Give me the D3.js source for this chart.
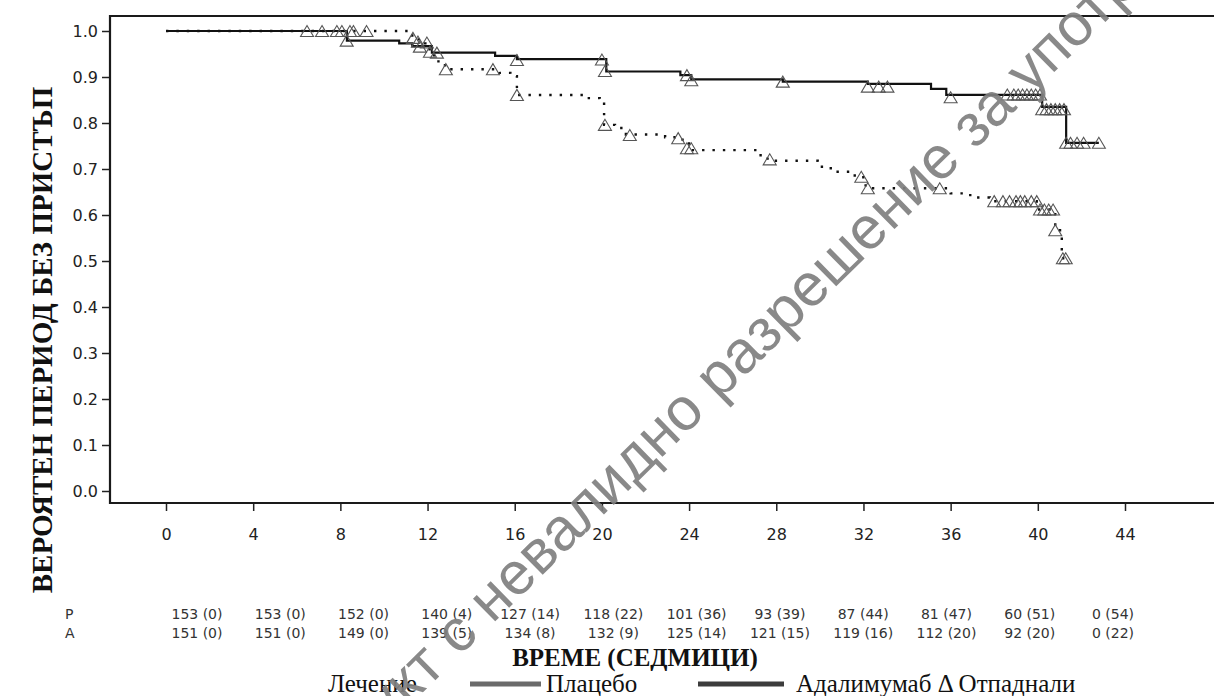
<!DOCTYPE html>
<html><head><meta charset="utf-8">
<script src="https://cdn.jsdelivr.net/npm/d3@7"></script>
<style>body{margin:0;background:#fff}svg{display:block}</style>
</head><body>
<svg id="c" width="1214" height="696"></svg>
<script>
// ---------- data ----------
const weekTicks = [0,4,8,12,16,20,24,28,32,36,40,44];
const probTicks = [0,0.1,0.2,0.3,0.4,0.5,0.6,0.7,0.8,0.9,1.0];

const placeboTimes = [0,11.3,11.6,11.9,12.2,12.5,12.8,15.3,15.8,16.1,19.4,19.9,20.1,20.6,21.1,22.9,23.7,24.0,27.2,27.6,29.9,30.5,31.6,32.1,36.0,36.9,37.8,39.95,40.8,41.1,41.3];
const placeboSurv  = [1.0,0.987,0.973,0.960,0.947,0.930,0.917,0.909,0.902,0.861,0.854,0.848,0.796,0.789,0.775,0.769,0.759,0.741,0.730,0.718,0.705,0.694,0.682,0.658,0.647,0.638,0.630,0.612,0.567,0.506,0.506];

const adaTimes = [0,8.3,10.7,11.3,12.2,15.1,16.1,20.2,23.6,24.1,28.3,32.2,35.1,35.8,40.2,41.3,42.8];
const adaSurv  = [1.0,0.979,0.973,0.967,0.953,0.946,0.939,0.912,0.904,0.895,0.890,0.885,0.874,0.861,0.835,0.757,0.757];

const placeboCensTimes = [6.47,7.16,7.84,8.44,8.6,9.2,11.33,11.65,12.84,15.0,16.1,20.14,21.28,23.5,23.9,24.1,27.7,31.9,32.2,35.5,38.0,38.4,38.7,39.0,39.2,39.4,39.7,39.95,40.1,40.3,40.5,40.7,40.8,41.15,41.28];
const placeboCensSurv  = [1,1,1,1,1,1,0.985,0.966,0.917,0.917,0.861,0.796,0.774,0.767,0.745,0.745,0.721,0.683,0.658,0.658,0.63,0.63,0.63,0.63,0.63,0.63,0.63,0.63,0.612,0.612,0.612,0.612,0.567,0.506,0.506];

const adaCensTimes = [8.07,8.29,11.56,11.97,12.11,12.43,16.1,20.0,20.14,23.9,24.1,28.3,32.2,32.7,33.1,36.0,38.6,38.9,39.1,39.3,39.5,39.7,39.9,40.1,40.2,40.4,40.6,40.8,41.0,41.2,41.3,41.5,41.8,42.1,42.8];
const adaCensSurv  = [1.0,0.979,0.977,0.975,0.955,0.953,0.937,0.938,0.913,0.904,0.893,0.890,0.879,0.879,0.879,0.856,0.862,0.862,0.862,0.862,0.862,0.862,0.862,0.862,0.830,0.830,0.830,0.830,0.830,0.830,0.757,0.757,0.757,0.757,0.757];

const riskGroups = ["P","A"];
const placeboRisk = ["153 (0)","153 (0)","152 (0)","140 (4)","127 (14)","118 (22)","101 (36)","93 (39)","87 (44)","81 (47)","60 (51)","0 (54)"];
const adaRisk = ["151 (0)","151 (0)","149 (0)","139 (5)","134 (8)","132 (9)","125 (14)","121 (15)","119 (16)","112 (20)","92 (20)","0 (22)"];

const yTitle = "ВЕРОЯТЕН ПЕРИОД БЕЗ ПРИСТЪП";
const xTitle = "ВРЕМЕ (СЕДМИЦИ)";
const legendTitle = "Лечение";
const legendPlacebo = "Плацебо";
const legendAda = "Адалимумаб Δ Отпаднали";
const watermark = "Лекарствен продукт с невалидно разрешение за употреба";

// ---------- drawing ----------
const svg = d3.select("#c");
const x = d3.scaleLinear().domain([0,44]).range([166,1125]);
const y = d3.scaleLinear().domain([0,1]).range([491,31]);
const tableX = d3.scaleLinear().domain([0,44]).range([197,1113]);

const frameLeft = 110, frameTop = 16, frameBottom = 503, frameRight = 1240;
const tickFont = "'DejaVu Sans', Verdana, sans-serif";
const serif = "'Liberation Serif', 'Times New Roman', serif";

// y axis
const ya = svg.append("g").attr("transform",`translate(${frameLeft},0)`)
  .call(d3.axisLeft(y).tickValues(probTicks).tickSize(8).tickPadding(4).tickFormat(d3.format(".1f")));
ya.select(".domain").remove();
ya.selectAll("line").attr("stroke","#222").attr("stroke-width",1.5);
ya.selectAll("text").attr("font-family",tickFont).attr("font-size",16).attr("fill","#222");

// x axis
const xa = svg.append("g").attr("transform",`translate(0,${frameBottom})`)
  .call(d3.axisBottom(x).tickValues(weekTicks).tickSize(8).tickPadding(18).tickFormat(d3.format("d")));
xa.select(".domain").remove();
xa.selectAll("line").attr("stroke","#222").attr("stroke-width",1.5);
xa.selectAll("text").attr("font-family",tickFont).attr("font-size",16).attr("fill","#222");

// frame
svg.append("path")
  .attr("d",`M${frameRight},${frameTop}H${frameLeft}V${frameBottom}H${frameRight}`)
  .attr("fill","none").attr("stroke","#1a1a1a").attr("stroke-width",2.2);

// curves
const line = d3.line().x(d=>x(d[0])).y(d=>y(d[1])).curve(d3.curveStepAfter);
svg.append("path").datum(placeboTimes.map((t,i)=>[t,placeboSurv[i]]))
  .attr("d",line).attr("fill","none").attr("stroke","#111").attr("stroke-width",2.4)
  .attr("stroke-dasharray","2.4,8");
svg.append("path").datum(adaTimes.map((t,i)=>[t,adaSurv[i]]))
  .attr("d",line).attr("fill","none").attr("stroke","#111").attr("stroke-width",2.2);

// censor triangles
function tri(cx,cy){const w=6.5,h=11;return `M${cx-w},${cy+h/2}L${cx},${cy-h/2}L${cx+w},${cy+h/2}Z`;}
const cens = placeboCensTimes.map((t,i)=>[t,placeboCensSurv[i]])
  .concat(adaCensTimes.map((t,i)=>[t,adaCensSurv[i]]));
svg.append("g").selectAll("path").data(cens).join("path")
  .attr("d",d=>tri(x(d[0]),y(d[1])))
  .attr("fill","none").attr("stroke","#555").attr("stroke-width",1.1);

// y title
svg.append("text").attr("transform","translate(52,340) rotate(-90)")
  .attr("text-anchor","middle").attr("font-family",serif).attr("font-weight","bold")
  .attr("font-size",29).attr("fill","#111").text(yTitle);

// at-risk table
const riskRows = [placeboRisk, adaRisk];
const rowY = [619, 638];
riskGroups.forEach((g,r)=>{
  svg.append("text").attr("x",65).attr("y",rowY[r]).attr("font-family",tickFont)
    .attr("font-size",14).attr("fill","#333").text(g);
  svg.append("g").selectAll("text").data(riskRows[r]).join("text")
    .attr("x",(d,i)=>tableX(weekTicks[i])).attr("y",rowY[r]).attr("text-anchor","middle")
    .attr("font-family",tickFont).attr("font-size",14).attr("fill","#333").text(d=>d);
});

// x title
svg.append("text").attr("x",635).attr("y",666).attr("text-anchor","middle")
  .attr("font-family",serif).attr("font-weight","bold").attr("font-size",25).attr("fill","#111").text(xTitle);

// legend
const lg = svg.append("g").attr("font-family",serif).attr("font-size",25).attr("fill","#111");
lg.append("text").attr("x",328).attr("y",692).text(legendTitle);
lg.append("line").attr("x1",470).attr("x2",541).attr("y1",684).attr("y2",684).attr("stroke","#6b6b6b").attr("stroke-width",5);
lg.append("text").attr("x",546).attr("y",692).text(legendPlacebo);
lg.append("line").attr("x1",698).attr("x2",784).attr("y1",684).attr("y2",684).attr("stroke","#3c3c3c").attr("stroke-width",5);
lg.append("text").attr("x",796).attr("y",692).text(legendAda);

// watermark
const wm = svg.append("text").attr("font-family","'Liberation Sans', Arial, sans-serif")
  .attr("font-size",60).attr("fill","#7f7f7f").attr("fill-opacity",0.92).text(watermark);
const pre = watermark.indexOf(" с ")+1;
const off = wm.node().getSubStringLength(0,pre);
wm.attr("x",-off).attr("transform","translate(459,657) rotate(-44.5)");
</script>
</body></html>
